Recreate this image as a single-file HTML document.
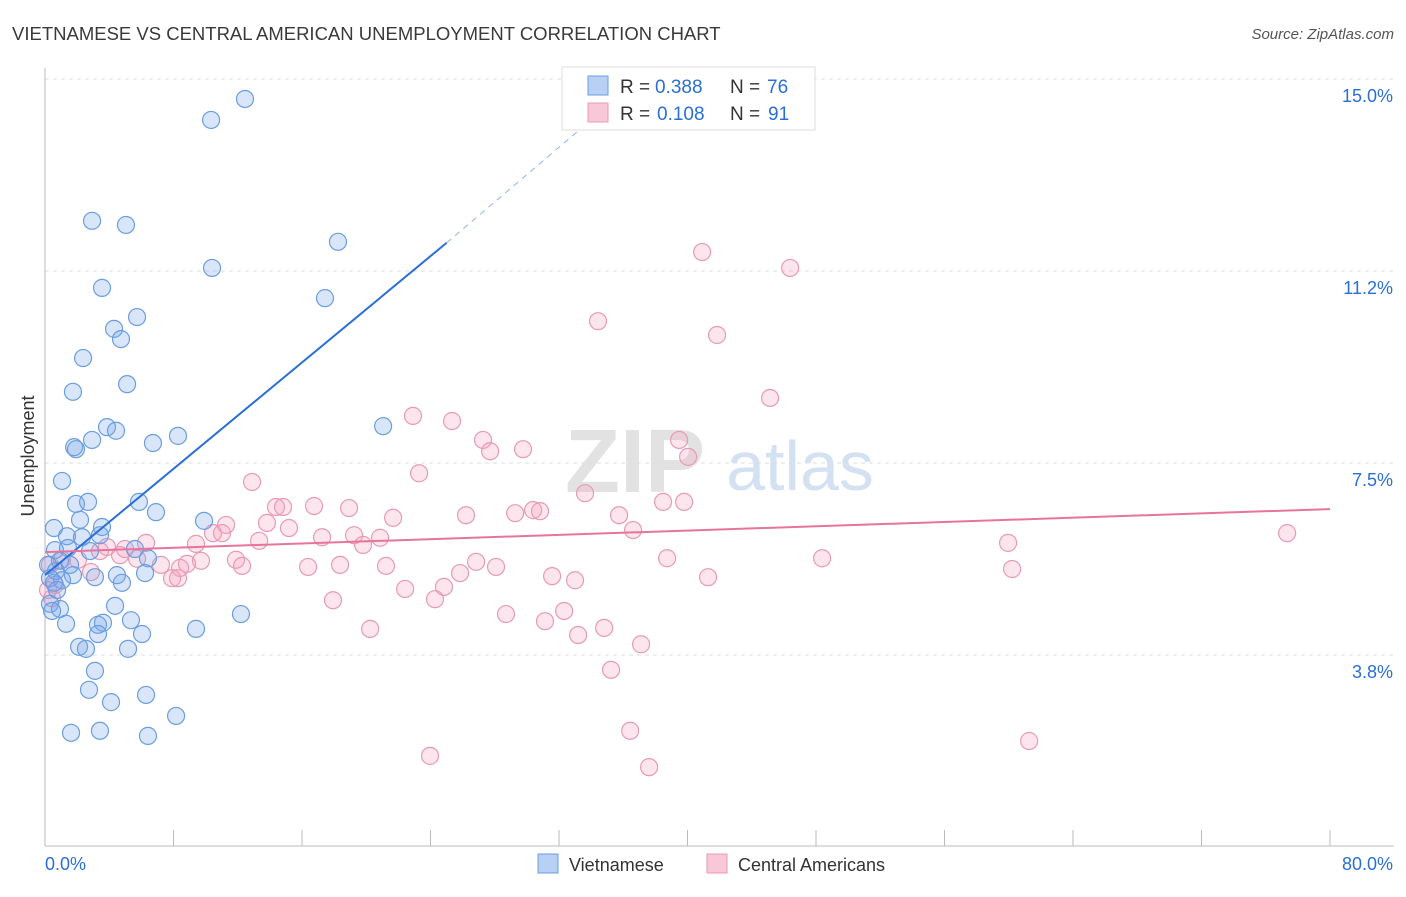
<!DOCTYPE html>
<html><head><meta charset="utf-8"><style>
body{margin:0;background:#fff;font-family:"Liberation Sans",sans-serif;}
svg text{font-family:"Liberation Sans",sans-serif;}
</style></head><body>
<svg id="chart" width="1406" height="892" viewBox="0 0 1406 892" xmlns="http://www.w3.org/2000/svg">
<text x="12" y="40" font-size="18.5" fill="#3a3a3a">VIETNAMESE VS CENTRAL AMERICAN UNEMPLOYMENT CORRELATION CHART</text>
<text x="1394" y="39" font-size="15" fill="#555" text-anchor="end" font-style="italic">Source: ZipAtlas.com</text>
<g>
<text x="635" y="492" font-size="90" fill="#e2e2e2" font-family="Liberation Serif" text-anchor="middle" font-weight="bold">ZIP</text>
<text x="800" y="490" font-size="70" fill="#d3e1f3" text-anchor="middle">atlas</text>
</g>
<g id="grid"></g>
<g id="axes"></g>
<g id="pink"></g>
<g id="blue"></g>
<g id="trends"></g>
<g>
<rect x="562" y="67" width="253" height="63" fill="#fff" stroke="#ddd"/>
<rect x="588" y="76" width="20" height="19" fill="#b8d0f3" stroke="#6a9ee0"/>
<text x="620" y="93" font-size="19" fill="#333">R =</text>
<text x="655" y="93" font-size="19" fill="#2a6fd6">0.388</text>
<text x="730" y="93" font-size="19" fill="#333">N =</text>
<text x="767" y="93" font-size="19" fill="#2a6fd6">76</text>
<rect x="588" y="103" width="20" height="19" fill="#f8c8d8" stroke="#e89ab5"/>
<text x="620" y="120" font-size="19" fill="#333">R =</text>
<text x="657" y="120" font-size="19" fill="#2a6fd6">0.108</text>
<text x="730" y="120" font-size="19" fill="#333">N =</text>
<text x="768" y="120" font-size="19" fill="#2a6fd6">91</text>
</g>
<g>
<rect x="538" y="854" width="20" height="19" fill="#b8d0f3" stroke="#6a9ee0"/>
<text x="569" y="871" font-size="18" fill="#333">Vietnamese</text>
<rect x="707" y="854" width="20" height="19" fill="#f8c8d8" stroke="#e89ab5"/>
<text x="738" y="871" font-size="18" fill="#333">Central Americans</text>
</g>
<text transform="translate(34,456) rotate(-90)" font-size="18" fill="#333" text-anchor="middle">Unemployment</text>
</svg>
<script>
const yTicks=[3.75,7.5,11.25,15];
const yTickLabels=["3.8%","7.5%","11.2%","15.0%"];
const xTicks=[0,8,16,24,32,40,48,56,64,72,80];
const xEndLabels=["0.0%","80.0%"];
const blueX=[12.45,10.34,2.93,5.04,18.24,10.40,3.55,17.43,5.73,4.30,4.73,2.37,5.11,1.74,21.05,3.86,4.42,2.93,6.72,8.28,1.81,1.93,1.06,1.93,2.68,5.85,6.91,9.90,2.18,0.56,3.55,3.42,1.37,2.30,5.60,0.62,1.43,2.80,6.41,0.93,0.19,1.56,0.68,6.23,4.48,1.74,3.11,0.31,1.06,0.56,4.79,0.75,0.31,4.36,0.93,0.44,12.20,5.35,3.30,3.61,1.31,3.30,6.04,9.40,2.12,2.55,5.17,3.11,2.74,6.29,4.11,8.16,1.62,3.42,6.41];
const blueY=[14.61,14.20,12.23,12.15,11.82,11.31,10.92,10.72,10.35,10.12,9.92,9.55,9.04,8.89,8.22,8.20,8.13,7.95,7.89,8.03,7.81,7.77,7.15,6.70,6.74,6.74,6.54,6.37,6.39,6.23,6.25,6.09,6.07,6.05,5.82,5.80,5.84,5.78,5.64,5.59,5.51,5.51,5.39,5.35,5.31,5.31,5.27,5.25,5.21,5.16,5.16,5.02,4.75,4.71,4.65,4.61,4.55,4.43,4.34,4.38,4.36,4.16,4.16,4.26,3.91,3.87,3.87,3.44,3.07,2.97,2.83,2.56,2.23,2.27,2.17];
const pinkX=[40.91,46.39,34.43,41.84,45.14,22.91,25.34,27.27,27.71,29.76,39.48,40.04,23.29,12.89,33.62,38.48,39.79,14.38,14.82,16.75,18.93,26.21,29.27,30.39,30.82,35.74,21.67,13.82,11.27,15.19,10.46,11.02,36.61,19.24,17.25,20.86,77.33,13.33,6.29,9.40,19.80,59.96,3.86,4.98,3.42,4.67,5.73,2.05,11.89,9.71,38.73,48.38,26.84,8.84,12.27,16.38,18.37,21.23,28.08,7.22,8.41,60.21,25.84,2.86,31.57,33.00,41.28,7.91,8.28,24.84,22.42,24.28,17.93,32.32,28.70,31.13,34.81,33.19,20.24,37.11,35.24,36.43,61.27,23.97,37.61,0.44,0.19,0.62,0.31,1.06];
const pinkY=[11.62,11.31,10.27,10.00,8.77,8.42,8.32,7.95,7.73,7.77,7.95,7.62,7.30,7.13,6.91,6.74,6.74,6.64,6.64,6.66,6.62,6.48,6.52,6.58,6.56,6.48,6.43,6.33,6.29,6.23,6.13,6.13,6.19,6.09,6.05,6.04,6.13,5.98,5.94,5.92,5.90,5.94,5.86,5.82,5.78,5.70,5.63,5.61,5.61,5.59,5.64,5.64,5.57,5.53,5.49,5.47,5.51,5.49,5.47,5.51,5.45,5.43,5.35,5.37,5.29,5.21,5.27,5.25,5.25,5.08,5.04,4.84,4.82,4.61,4.55,4.41,4.28,4.14,4.26,3.96,3.46,2.27,2.07,1.78,1.56,4.86,5.02,5.12,5.51,5.61];
const blueTrend=[0,5.31,25,11.8,34,14.2];
const pinkTrend=[0,5.76,80,6.60];

const NS="http://www.w3.org/2000/svg";
const sx=v=>45+v*(1285/80);
const sy=v=>847-v*51.2;
function mk(tag,attrs,parent){const e=document.createElementNS(NS,tag);for(const k in attrs)e.setAttribute(k,attrs[k]);parent.appendChild(e);return e;}
const grid=document.getElementById('grid'),axes=document.getElementById('axes');
yTicks.forEach((t,i)=>{
  const l=mk('line',{x1:45,x2:1394,y1:sy(t),y2:sy(t),stroke:'#ddd','stroke-dasharray':'4,4'},grid);
  
  
  const tx=mk('text',{x:1393,y:sy(t)+23,'font-size':18,fill:'#2a6fd6','text-anchor':'end'},axes);
  tx.textContent=yTickLabels[i];
  
  
});
const yax=mk('line',{x1:45,x2:45,y1:68,y2:846,stroke:'#bbb'},axes);


const xax=mk('line',{x1:45,x2:1394,y1:846,y2:846,stroke:'#bbb'},axes);


xTicks.forEach(t=>{
  const l=mk('line',{x1:sx(t),x2:sx(t),y1:830,y2:846,stroke:'#bbb'},axes);
  
  
});
const xl0=mk('text',{x:45,y:870,'font-size':18,fill:'#2a6fd6'},axes);
xl0.textContent=xEndLabels[0];


const xl1=mk('text',{x:1393,y:870,'font-size':18,fill:'#2a6fd6','text-anchor':'end'},axes);
xl1.textContent=xEndLabels[1];


const pg=document.getElementById('pink');
pinkX.forEach((x,i)=>{
  const c=mk('circle',{cx:sx(x),cy:sy(pinkY[i]),r:8.5,fill:'rgba(243,160,190,0.28)',stroke:'#e89ab5','stroke-width':1.2},pg);
  
  
});
const bg=document.getElementById('blue');
blueX.forEach((x,i)=>{
  const c=mk('circle',{cx:sx(x),cy:sy(blueY[i]),r:8.5,fill:'rgba(120,165,235,0.28)',stroke:'#6a9ee0','stroke-width':1.2},bg);
  
  
});
const tg=document.getElementById('trends');
const b1=mk('line',{x1:sx(blueTrend[0]),y1:sy(blueTrend[1]),x2:sx(blueTrend[2]),y2:sy(blueTrend[3]),stroke:'#2a6fd6','stroke-width':2},tg);


const b2=mk('line',{x1:sx(blueTrend[2]),y1:sy(blueTrend[3]),x2:sx(blueTrend[4]),y2:sy(blueTrend[5]),stroke:'#8fb3e8','stroke-width':1,'stroke-dasharray':'6,5'},tg);


const p1=mk('line',{x1:sx(pinkTrend[0]),y1:sy(pinkTrend[1]),x2:sx(pinkTrend[2]),y2:sy(pinkTrend[3]),stroke:'#e8739c','stroke-width':2},tg);


</script>
</body></html>
